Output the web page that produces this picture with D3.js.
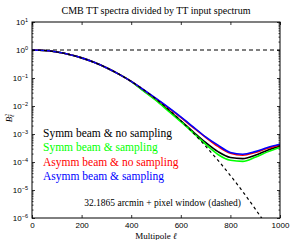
<!DOCTYPE html>
<html>
<head>
<meta charset="utf-8">
<script src="https://cdn.jsdelivr.net/npm/d3@7"></script>
<style>
body { margin: 0; background: #fff; }
svg { display: block; }
.tick text { font-family: "Liberation Sans", Arial, sans-serif; font-size: 8px; }
.serif { font-family: "Liberation Serif", "Times New Roman", serif; }
</style>
</head>
<body>
<svg width="292" height="240"></svg>
<script>

var ells = [0, 50, 100, 150, 200, 250, 300, 350, 400, 450, 500, 550, 600, 650, 700, 750, 800, 850, 900, 950, 1000];

var symmNoSampling = [1, 0.959, 0.849, 0.693, 0.523, 0.364, 0.233, 0.138, 0.0755, 0.0355, 0.0166, 7.1e-3, 2.95e-3, 1.2e-3, 5.0e-4, 2.35e-4, 1.45e-4, 1.32e-4, 1.74e-4, 2.63e-4, 3.7e-4];
var symmSampling   = [1, 0.959, 0.849, 0.693, 0.523, 0.364, 0.233, 0.138, 0.0750, 0.0339, 0.0158, 6.6e-3, 2.75e-3, 1.1e-3, 4.3e-4, 1.86e-4, 1.15e-4, 1.05e-4, 1.48e-4, 2.3e-4, 3.3e-4];
var asymmNoSampling = [1, 0.959, 0.849, 0.693, 0.523, 0.364, 0.233, 0.138, 0.0758, 0.0375, 0.0182, 8.5e-3, 3.9e-3, 1.7e-3, 7.6e-4, 3.6e-4, 2.05e-4, 1.75e-4, 2.2e-4, 3.1e-4, 4.1e-4];
var asymmSampling  = [1, 0.959, 0.849, 0.693, 0.523, 0.364, 0.233, 0.138, 0.0760, 0.038, 0.0186, 8.9e-3, 4.1e-3, 1.8e-3, 7.9e-4, 4.0e-4, 2.2e-4, 1.9e-4, 2.35e-4, 3.3e-4, 4.3e-4];
var beamDashed     = [1, 0.960, 0.850, 0.694, 0.523, 0.364, 0.2334, 0.1382, 0.0755, 0.0380, 0.01767, 7.58e-3, 3.00e-3, 1.095e-3, 3.69e-4, 1.147e-4, 3.29e-5, 8.7e-6, 2.12e-6, 4.8e-7, 1.0e-7];

var seriesNames = ["Symm beam & no sampling", "Symm beam & sampling", "Asymm beam & no sampling", "Asymm beam & sampling"];
var seriesColors = ["#000000", "#00ff00", "#ff0000", "#0000ff"];
var seriesData = [symmNoSampling, symmSampling, asymmNoSampling, asymmSampling];

var xTicks = [0, 200, 400, 600, 800, 1000];
var yTicks = [1e1, 1e0, 1e-1, 1e-2, 1e-3, 1e-4, 1e-5, 1e-6];
var yExps = ["1", "0", "\u22121", "\u22122", "\u22123", "\u22124", "\u22125", "\u22126"];

var mLeft = 32, mTop = 22, mRight = 280, mBottom = 218;

var svg = d3.select("svg");

var x = d3.scaleLinear().domain([0, 1000]).range([mLeft, mRight]);
var y = d3.scaleLog().domain([1e-6, 10]).range([mBottom, mTop]);

svg.append("defs").append("clipPath").attr("id", "clip")
  .append("rect").attr("x", mLeft).attr("y", mTop).attr("width", mRight - mLeft).attr("height", mBottom - mTop);

var plot = svg.append("g").attr("clip-path", "url(#clip)");

var line = function(vals) {
  return d3.line()
    .x(function(d, i) { return x(ells[i]); })
    .y(function(d) { return y(d); })
    .curve(d3.curveMonotoneX)(vals);
};

// reference line at 1
plot.append("line")
  .attr("x1", mLeft).attr("x2", mRight)
  .attr("y1", y(1)).attr("y2", y(1))
  .attr("stroke", "#000").attr("stroke-width", 1).attr("stroke-dasharray", "4,3");

for (let i = 0; i < seriesData.length; i++) {
  plot.append("path")
    .attr("d", line(seriesData[i]))
    .attr("fill", "none")
    .attr("stroke", seriesColors[i])
    .attr("stroke-width", 1.6);
}

plot.append("path")
  .attr("d", line(beamDashed))
  .attr("fill", "none")
  .attr("stroke", "#000")
  .attr("stroke-width", 1.2)
  .attr("stroke-dasharray", "3,3");

// box
svg.append("rect")
  .attr("x", mLeft).attr("y", mTop).attr("width", mRight - mLeft).attr("height", mBottom - mTop)
  .attr("fill", "none").attr("stroke", "#000").attr("stroke-width", 1);

// x axis
var xAxis = svg.append("g").attr("transform", "translate(0," + mBottom + ")")
  .call(d3.axisBottom(x).tickValues(xTicks).tickSize(-3).tickPadding(4).tickFormat(d3.format("d")));
xAxis.select(".domain").remove();
svg.append("g").attr("transform", "translate(0," + mTop + ")")
  .call(d3.axisTop(x).tickValues(xTicks).tickSize(-3).tickFormat(""))
  .select(".domain").remove();

// y axis, decades
var yAxis = svg.append("g").attr("transform", "translate(" + mLeft + ",0)")
  .call(d3.axisLeft(y).tickValues(yTicks).tickSize(-3).tickPadding(8).tickFormat(""));
yAxis.select(".domain").remove();
yAxis.selectAll(".tick").each(function(d, i) {
  var t = d3.select(this).append("text")
    .attr("x", -4).attr("dy", "0.35em").attr("text-anchor", "end").attr("fill", "#000");
  t.append("tspan").text("10");
  t.append("tspan").attr("dy", "-0.55em").attr("font-size", "5.5px").text(yExps[i]);
});
svg.append("g").attr("transform", "translate(" + mRight + ",0)")
  .call(d3.axisRight(y).tickValues(yTicks).tickSize(-3).tickFormat(""))
  .select(".domain").remove();

// minor ticks
var minor = [];
for (let e = -6; e < 1; e++) for (let m = 2; m < 10; m++) minor.push(m * Math.pow(10, e));
svg.append("g").attr("transform", "translate(" + mLeft + ",0)")
  .call(d3.axisLeft(y).tickValues(minor).tickSize(-1.5).tickFormat(""))
  .select(".domain").remove();
svg.append("g").attr("transform", "translate(" + mRight + ",0)")
  .call(d3.axisRight(y).tickValues(minor).tickSize(-1.5).tickFormat(""))
  .select(".domain").remove();

svg.selectAll(".tick line").attr("stroke", "#000").attr("stroke-width", 0.8);

// title and labels
svg.append("text").attr("class", "serif")
  .attr("x", 156).attr("y", 14).attr("text-anchor", "middle").attr("font-size", "10px")
  .text("CMB TT spectra divided by TT input spectrum");

svg.append("text").attr("class", "serif")
  .attr("x", 156).attr("y", 239).attr("text-anchor", "middle").attr("font-size", "9px")
  .html("Multipole <tspan font-style='italic'>\u2113</tspan>");

var yl = svg.append("text").attr("class", "serif")
  .attr("transform", "translate(12,118) rotate(-90)")
  .attr("text-anchor", "middle").attr("font-size", "9px").attr("font-style", "italic");
yl.append("tspan").text("B");
yl.append("tspan").attr("dy", "-0.5em").attr("font-size", "6px").text("2");
yl.append("tspan").attr("dx", "-0.55em").attr("dy", "0.9em").attr("font-size", "6px").text("\u2113");

// legend
for (let i = 0; i < seriesNames.length; i++) {
  svg.append("text").attr("class", "serif")
    .attr("x", 43).attr("y", 137 + i * 14.3)
    .attr("font-size", "11.5px").attr("fill", seriesColors[i])
    .text(seriesNames[i]);
}

svg.append("text").attr("class", "serif")
  .attr("x", 241).attr("y", 206).attr("text-anchor", "end").attr("font-size", "9.5px")
  .text("32.1865 arcmin + pixel window (dashed)");

</script>
</body>
</html>
